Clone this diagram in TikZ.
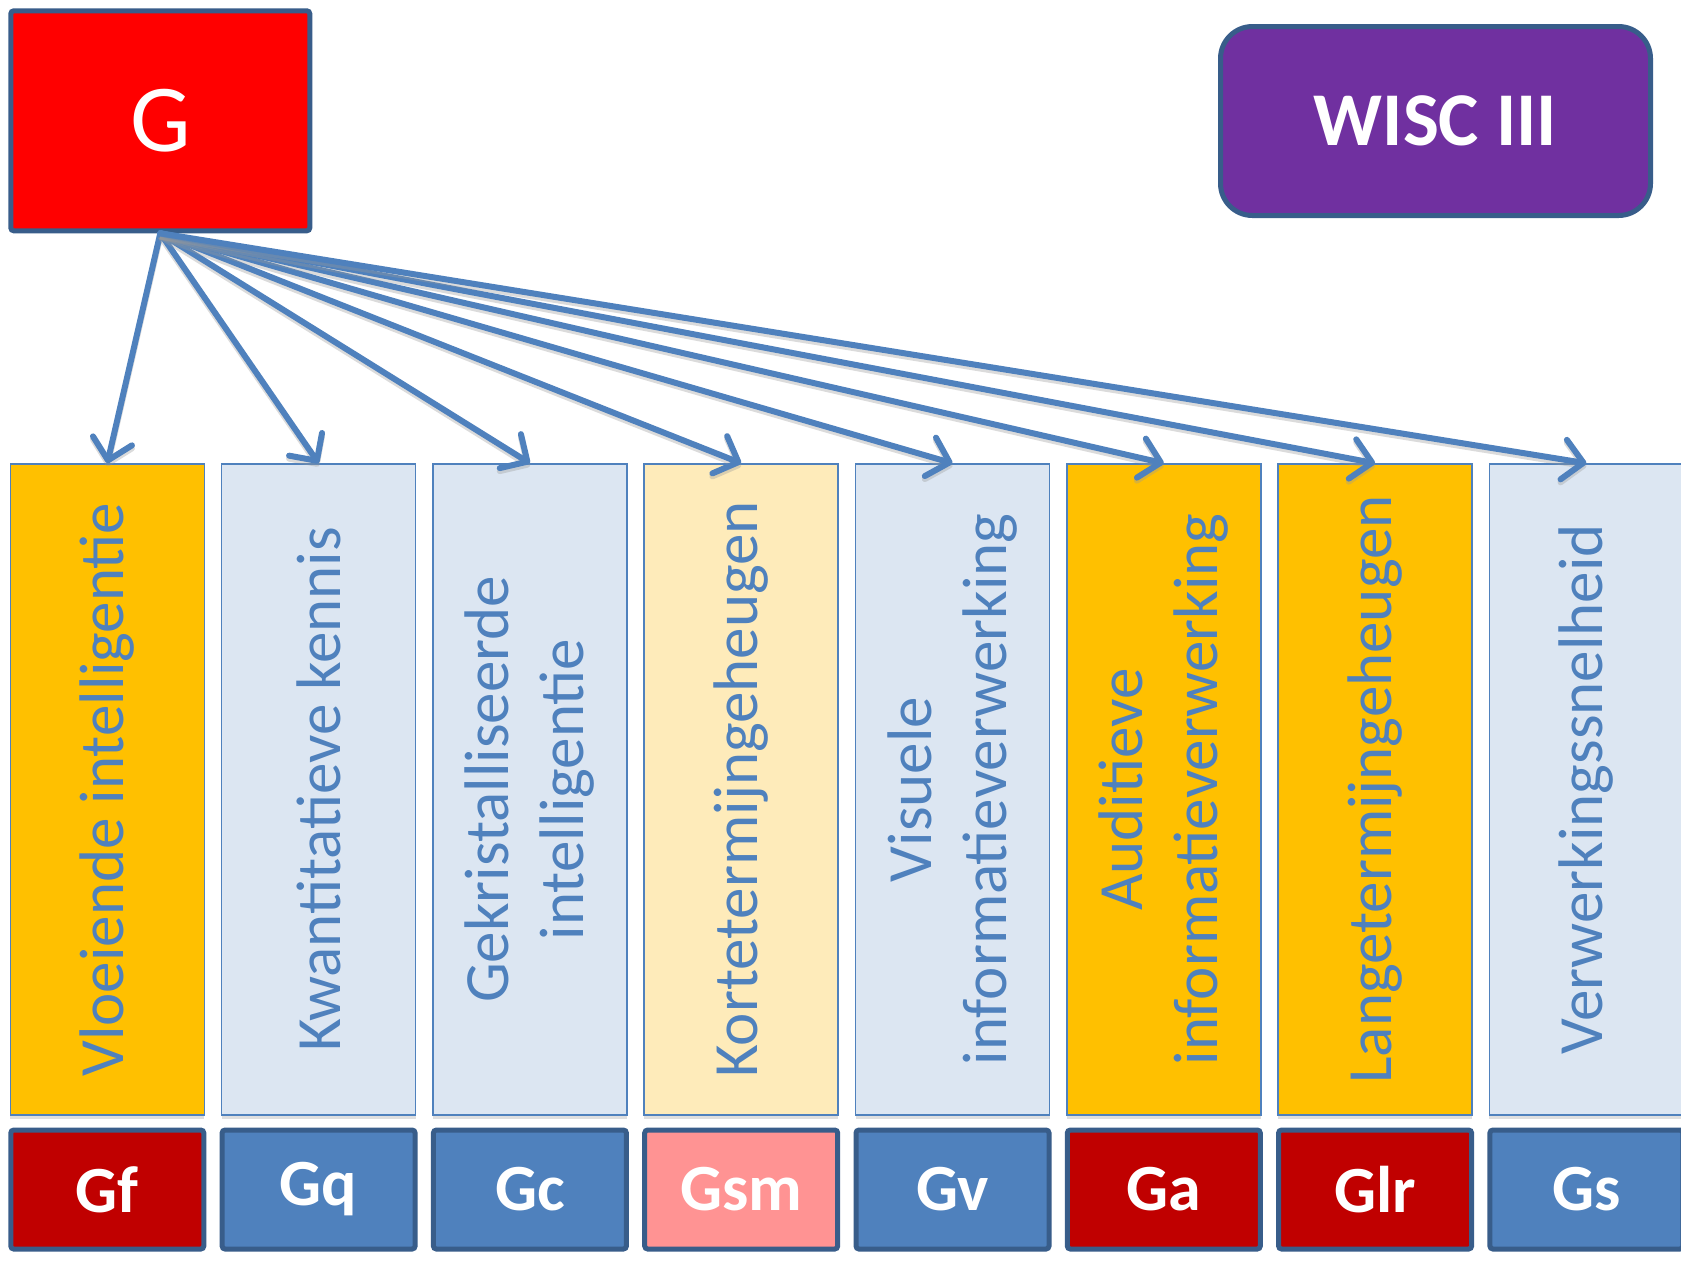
\documentclass[tikz,border=0pt]{standalone}
\usepackage{fontspec}
\setmainfont{Carlito}
\usepackage{xcolor}
\usetikzlibrary{arrows.meta, shadows, positioning}

\definecolor{accent}{HTML}{4F81BD}
\definecolor{darkline}{HTML}{385D8A}
\definecolor{gold}{HTML}{FFC000}
\definecolor{paleblue}{HTML}{DCE6F2}
\definecolor{paleyellow}{HTML}{FEEBBA}
\definecolor{darkred}{HTML}{C00000}
\definecolor{salmon}{HTML}{FF9393}
\definecolor{wiscpurple}{HTML}{7030A0}

\tikzset{
    colbox/.style={draw=accent, line width=0.75pt, minimum width=97pt, minimum height=325.5pt,
        inner sep=0pt, drop shadow={shadow xshift=0pt, shadow yshift=-2pt, opacity=0.25}},
    coltext/.style={rotate=90, text=accent, align=center, inner sep=0pt,
        font=\fontsize{31.5}{37.5}\selectfont},
    codebox/.style={draw=darkline, line width=2.5pt, rounded corners=1.5pt, inner sep=0pt,
        minimum width=96.5pt, minimum height=59.5pt, text=white,
        font=\bfseries\fontsize{33}{40}\selectfont},
    link/.style={draw=accent, line width=3pt, line cap=round,
        preaction={draw=black!40, opacity=0.35, line width=3pt, transform canvas={yshift=-1.5pt}},
        -{Straight Barb[length=10pt, width=20pt, line width=3pt, round]}}
}

% one column: name, x, fill, text, code fill, code
\newcommand{\ability}[6]{
    \node[colbox, fill=#3] (#1) at (#2, 789.5) {};
    \node[coltext] (#1-t) at (#1) {#4};
    \node[codebox, fill=#5] (#1-c) at (#2, 1189.5) {#6};
}

\begin{document}
\begin{tikzpicture}[x=0.5pt, y=-0.5pt]
    \clip (0, 0) rectangle (1681, 1260);
    \fill[white] (0, 0) rectangle (1681, 1260);

    \node[draw=darkline, line width=2.5pt, rounded corners=1.5pt, fill=red, text=white,
        minimum width=149.5pt, minimum height=110pt, font=\fontsize{48}{58}\selectfont]
        (g) at (160.3, 120.8) {G};
    \node[draw=darkline, line width=2.5pt, rounded corners=16pt, fill=wiscpurple, text=white,
        minimum width=215pt, minimum height=94.5pt, font=\bfseries\fontsize{38}{46}\selectfont]
        (wisc) at (1435.5, 121) {WISC III};

    \ability{gf}{107.3}{gold}{Vloeiende intelligentie}{darkred}{Gf}
    \ability{gq}{318.6}{paleblue}{Kwantitatieve kennis}{accent}{Gq}
    \ability{gc}{529.9}{paleblue}{Gekristalliseerde\\intelligentie}{accent}{Gc}
    \ability{gsm}{741.2}{paleyellow}{Kortetermijngeheugen}{salmon}{Gsm}
    \ability{gv}{952.5}{paleblue}{Visuele\\informatieverwerking}{accent}{Gv}
    \ability{ga}{1163.8}{gold}{Auditieve\\informatieverwerking}{darkred}{Ga}
    \ability{glr}{1375.1}{gold}{Langetermijngeheugen}{darkred}{Glr}
    \ability{gs}{1586.4}{paleblue}{Verwerkingssnelheid}{accent}{Gs}

    \foreach \n in {gf, gq, gc, gsm, gv, ga, glr, gs}
        \draw[link] (g.south) -- (\n.north);
\end{tikzpicture}
\end{document}
